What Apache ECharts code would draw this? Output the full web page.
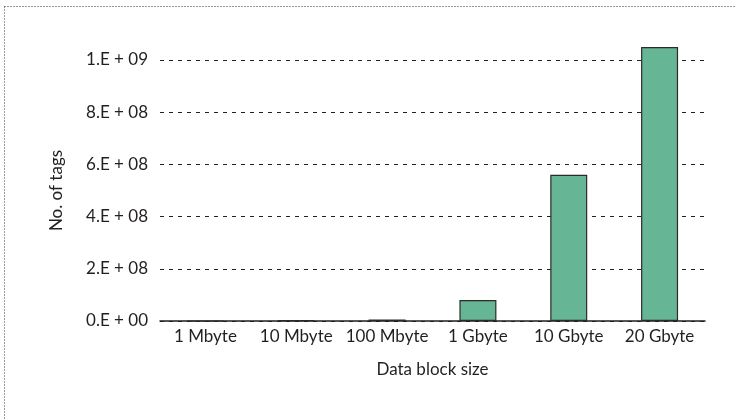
<!DOCTYPE html>
<html>
<head>
<meta charset="utf-8">
<script src="https://cdn.jsdelivr.net/npm/echarts@6/dist/echarts.min.js"></script>
<style>
	html, body { margin: 0; padding: 0; background: #fff; }
	#chart { width: 736px; height: 420px; }
</style>
</head>
<body>
<div id="chart"></div>
<script>
var categories = ['1 Mbyte', '10 Mbyte', '100 Mbyte', '1 Gbyte', '10 Gbyte', '20 Gbyte'];
var tagCounts = [1e5, 3e6, 6e6, 8.0e7, 5.6e8, 1.05e9];
var yTicks = [0, 2e8, 4e8, 6e8, 8e8, 1e9];

var textColor = '#231f20';
var fontName = 'Lato';
var fontSize = 17;

function sciLabel(v) {
	// 2e8 -> "2.E + 08"
	if (v === 0) return '0.E + 00';
	var exp = Math.floor(Math.log10(v) + 1e-9);
	var mant = Math.round(v / Math.pow(10, exp));
	return mant + '.E + ' + (exp < 10 ? '0' + exp : exp);
}

var myChart = echarts.init(document.getElementById('chart'));

var option = {
	animation: false,
	backgroundColor: '#fff',
	grid: {
		left: 160,
		right: 31,
		top: 60,
		bottom: 99
	},
	graphic: [
		{ type: 'line', shape: { x1: 4.5, y1: 6.5, x2: 736, y2: 6.5 }, style: { stroke: '#333', lineWidth: 1, lineDash: [1, 2] } },
		{ type: 'line', shape: { x1: 4.5, y1: 6.5, x2: 4.5, y2: 420 }, style: { stroke: '#333', lineWidth: 1, lineDash: [1, 2] } }
	],
	xAxis: {
		type: 'category',
		data: categories,
		name: 'Data block size',
		nameLocation: 'middle',
		nameGap: 40,
		nameTextStyle: { color: textColor, fontSize: fontSize, fontFamily: fontName },
		axisLine: { lineStyle: { color: '#231f20', width: 1.5 } },
		axisTick: { show: false },
		axisLabel: { color: textColor, fontSize: fontSize, fontFamily: fontName, interval: 0, margin: 7 },
		splitLine: { show: false }
	},
	yAxis: {
		type: 'value',
		min: 0,
		max: yTicks[yTicks.length - 1],
		interval: yTicks[1] - yTicks[0],
		name: 'No. of tags',
		nameLocation: 'middle',
		nameGap: 95,
		nameTextStyle: { color: textColor, fontSize: fontSize, fontFamily: fontName },
		axisLine: { show: false },
		axisTick: { show: false },
		axisLabel: {
			color: textColor, fontSize: fontSize, fontFamily: fontName, margin: 12,
			formatter: sciLabel
		},
		splitLine: {
			show: true,
			lineStyle: { color: '#231f20', type: [4, 5], width: 1 }
		}
	},
	series: [{
		type: 'bar',
		data: tagCounts,
		barWidth: 37,
		clip: false,
		itemStyle: {
			color: '#66b594',
			borderColor: '#2b2b2b',
			borderWidth: 1.2
		}
	}]
};

myChart.setOption(option);
</script>
</body>
</html>
